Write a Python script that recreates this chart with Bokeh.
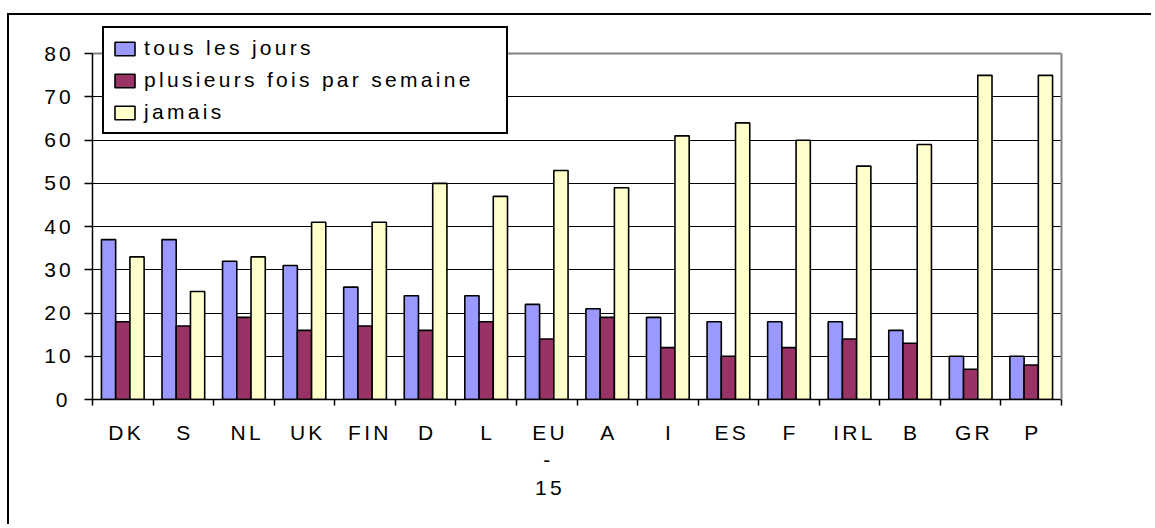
from bokeh.plotting import figure
from bokeh.models import (Range1d, LinearAxis, FixedTicker, ColumnDataSource, Grid)
from bokeh.transform import dodge
from bokeh.embed import file_html
from bokeh.resources import INLINE

# ---- data -------------------------------------------------------------
countries = ["DK", "S", "NL", "UK", "FIN", "D", "L", "EU-15", "A", "I",
             "ES", "F", "IRL", "B", "GR", "P"]
country_labels = ["DK", "S", "NL", "UK", "FIN", "D", "L", "EU\n-\n15", "A", "I",
                  "ES", "F", "IRL", "B", "GR", "P"]
tous_les_jours = [37, 37, 32, 31, 26, 24, 24, 22, 21, 19, 18, 18, 18, 16, 10, 10]
plusieurs_fois = [18, 17, 19, 16, 17, 16, 18, 14, 19, 12, 10, 12, 14, 13, 7, 8]
jamais = [33, 25, 33, 41, 41, 50, 47, 53, 49, 61, 64, 60, 54, 59, 75, 75]
series_names = ["tous les jours", "plusieurs fois par semaine", "jamais"]
y_ticks = [0, 10, 20, 30, 40, 50, 60, 70, 80]
y_max = 80

FONT = "Liberation Sans"
FS = "21px"

n = len(countries)
centers = [i + 0.5 for i in range(n)]          # slot centres on the x scale
edges = list(range(n + 1))                      # slot boundaries

src = ColumnDataSource(dict(x=centers, cat=countries, a=tous_les_jours,
                            b=plusieurs_fois, c=jamais))

# the frame reaches a little above 80 so that the legend box is not clipped
p = figure(x_range=Range1d(0, n), y_range=Range1d(0, 87),
           frame_width=969, frame_height=376, output_backend="svg",
           toolbar_location=None, x_axis_type=None,
           min_border_left=83, min_border_right=90,
           min_border_top=8, min_border_bottom=125)
p.styles = {"border-left": "2px solid black", "border-top": "2px solid black",
            "margin-top": "13px", "margin-left": "7px", "letter-spacing": "3.3px"}

p.background_fill_color = "white"
p.border_fill_color = "white"
p.outline_line_color = None

# ---- bars ---------------------------------------------------------------
W = 0.235
colors = ["#9999FF", "#993366", "#FFFFCC"]
for field, off, col, name in zip(["a", "b", "c"], [-W, 0, W], colors, series_names):
    p.vbar(x=dodge("x", off), top=field, width=W, source=src,
           fill_color=col, line_color="black", line_width=1.6,
           legend_label=name)

# ---- y axis -------------------------------------------------------------
ya = p.yaxis[0]
ya.ticker = FixedTicker(ticks=y_ticks)
ya.bounds = (0, y_max)
ya.major_tick_out = 8
ya.major_tick_in = 0
ya.minor_tick_line_color = None
ya.major_tick_line_color = "black"
ya.major_tick_line_width = 1.5
ya.axis_line_color = "black"
ya.axis_line_width = 1.5
ya.major_label_text_font = FONT
ya.major_label_text_font_size = FS
ya.major_label_text_color = "black"
ya.major_label_standoff = 17

p.ygrid.ticker = FixedTicker(ticks=y_ticks[1:-1])
p.ygrid.grid_line_color = "black"
p.ygrid.grid_line_width = 1.2
p.xgrid.visible = False

# grey top edge of the plot area at 80
p.add_layout(Grid(dimension=1, ticker=FixedTicker(ticks=[y_max]),
                  grid_line_color="#808080", grid_line_width=2))

# grey right edge of the plot area (axis line only, no ticks)
right_axis = LinearAxis(ticker=FixedTicker(ticks=[]), bounds=(0, y_max),
                        axis_line_color="#808080", axis_line_width=2,
                        major_tick_line_color=None, minor_tick_line_color=None)
p.add_layout(right_axis, "right")

# ---- x axis: labels at slot centres, tick marks at slot boundaries -----
xa = LinearAxis(ticker=FixedTicker(ticks=centers, minor_ticks=edges),
                major_tick_line_color=None, major_tick_out=6, major_tick_in=0,
                minor_tick_line_color="black", minor_tick_line_width=1.5,
                minor_tick_out=6, minor_tick_in=0,
                axis_line_color="black", axis_line_width=1.5,
                major_label_text_font=FONT,
                major_label_text_font_size=FS,
                major_label_text_color="black",
                major_label_standoff=15,
                major_label_overrides=dict(zip(centers, country_labels)))
p.add_layout(xa, "below")

# ---- legend -------------------------------------------------------------
lg = p.legend[0]
lg.location = (10, 265)
lg.border_line_color = "black"
lg.border_line_alpha = 1
lg.border_line_width = 2
lg.background_fill_color = "white"
lg.background_fill_alpha = 1
lg.padding = 8
lg.spacing = 8
lg.margin = 0
lg.glyph_width = 25
lg.glyph_height = 17
lg.label_standoff = 7
lg.label_width = 354
lg.label_text_font = FONT
lg.label_text_font_size = FS
lg.label_text_color = "black"

open("out.html", "w").write(file_html(p, INLINE))
